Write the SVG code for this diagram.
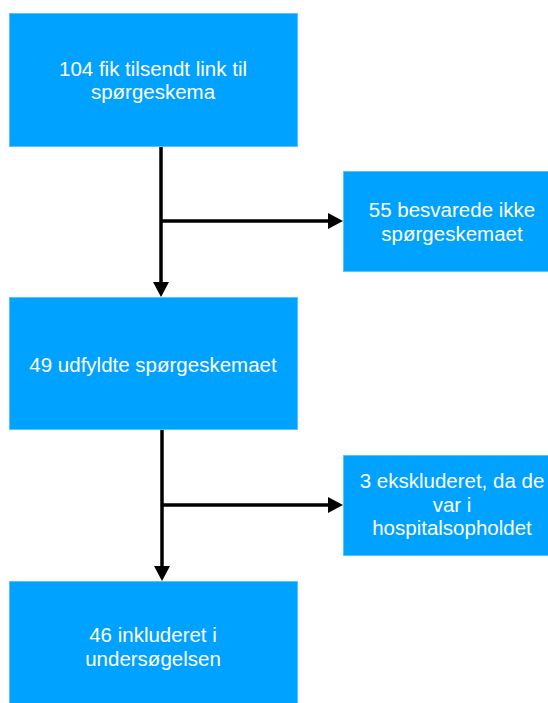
<svg xmlns="http://www.w3.org/2000/svg" width="548" height="703" viewBox="0 0 548 703">
<style>
.box{fill:#00a2ff;stroke:#5cc2ff;stroke-width:1}
.lbl{font-family:"Liberation Sans",Arial,Helvetica,sans-serif;font-size:20.5px;fill:#ffffff;text-anchor:middle}
.conn{fill:none;stroke:#000;stroke-width:3.5}
</style>
<defs>
<marker id="arr" markerUnits="userSpaceOnUse" markerWidth="16" markerHeight="17" refX="1" refY="8" orient="auto">
<path d="M0,0 L15,8 L0,16 z" fill="#000"/>
</marker>
</defs>
<rect x="0" y="0" width="548" height="703" fill="#ffffff"/>
<g id="connectors">
<path class="conn" d="M161,146 V283" marker-end="url(#arr)"/>
<path class="conn" d="M161,221 H329" marker-end="url(#arr)"/>
<path class="conn" d="M162,429 V567" marker-end="url(#arr)"/>
<path class="conn" d="M162,505 H329" marker-end="url(#arr)"/>
</g>
<g id="n1">
<rect class="box" x="9.5" y="13.5" width="288" height="133"/>
<text class="lbl" x="153" y="75.5">104 fik tilsendt link til</text>
<text class="lbl" x="153" y="99">spørgeskema</text>
</g>
<g id="n2">
<rect class="box" x="343.5" y="171.5" width="220" height="100"/>
<text class="lbl" x="452" y="217">55 besvarede ikke</text>
<text class="lbl" x="452" y="240.5">spørgeskemaet</text>
</g>
<g id="n3">
<rect class="box" x="9.5" y="297.5" width="288" height="132"/>
<text class="lbl" x="153" y="371.5">49 udfyldte spørgeskemaet</text>
</g>
<g id="n4">
<rect class="box" x="343.5" y="455.5" width="220" height="100"/>
<text class="lbl" x="452" y="488">3 ekskluderet, da de</text>
<text class="lbl" x="452" y="511.5">var i</text>
<text class="lbl" x="452" y="535">hospitalsopholdet</text>
</g>
<g id="n5">
<rect class="box" x="9.5" y="581.5" width="288" height="130"/>
<text class="lbl" x="153" y="642">46 inkluderet i</text>
<text class="lbl" x="153" y="665.5">undersøgelsen</text>
</g>
</svg>
